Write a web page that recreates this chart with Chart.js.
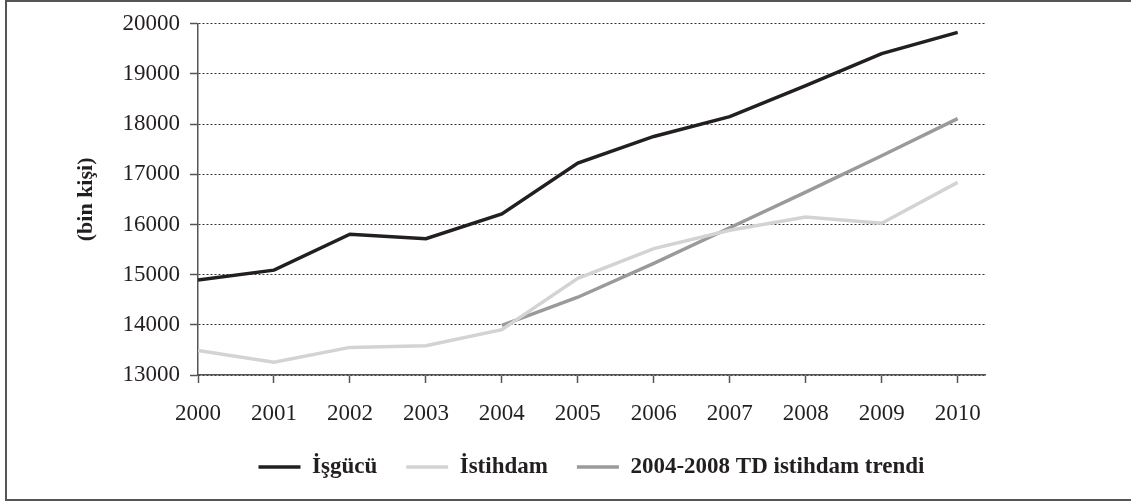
<!DOCTYPE html>
<html>
<head>
<meta charset="utf-8">
<script src="https://cdn.jsdelivr.net/npm/chart.js@4/dist/chart.umd.min.js"></script>
<style>
  html, body { margin: 0; padding: 0; background: #fff; }
  #wrap { width: 1131px; height: 502px; position: relative; }
</style>
</head>
<body>
<div id="wrap"><canvas id="c" width="1131" height="502"></canvas></div>
<script>
const years = [2000, 2001, 2002, 2003, 2004, 2005, 2006, 2007, 2008, 2009, 2010];
const isgucu = [14895, 15090, 15805, 15715, 16210, 17225, 17755, 18150, 18770, 19405, 19830];
const istihdam = [13490, 13255, 13550, 13585, 13905, 14925, 15520, 15885, 16150, 16025, 16840];
const trend = [null, null, null, null, 13990, 14550, 15225, 15935, 16645, 17370, 18110];
const yTicks = [13000, 14000, 15000, 16000, 17000, 18000, 19000, 20000];
const seriesNames = ['İşgücü', 'İstihdam', '2004-2008 TD istihdam trendi'];
const yTitle = '(bin kişi)';

const toPoints = (vals) => years.map((x, i) => ({ x: x, y: vals[i] })).filter(p => p.y !== null);

const FONT = "'Liberation Serif', 'Times New Roman', serif";

const framePlugin = {
  id: 'frame',
  beforeDraw(chart) {
    const ctx = chart.ctx;
    ctx.save();
    ctx.fillStyle = '#fff';
    ctx.fillRect(0, 0, chart.width, chart.height);
    ctx.strokeStyle = '#555';
    ctx.lineWidth = 2;
    ctx.strokeRect(6, 1, 1135, 499);
    ctx.restore();
  }
};

new Chart(document.getElementById('c'), {
  type: 'line',
  data: {
    datasets: [
      { label: seriesNames[0], data: toPoints(isgucu), borderColor: '#231f20', backgroundColor: '#231f20', borderWidth: 3.5, pointRadius: 0, tension: 0 },
      { label: seriesNames[1], data: toPoints(istihdam), borderColor: '#d3d3d3', backgroundColor: '#d3d3d3', borderWidth: 3.5, pointRadius: 0, tension: 0 },
      { label: seriesNames[2], data: toPoints(trend), borderColor: '#9a9a9a', backgroundColor: '#9a9a9a', borderWidth: 3.5, pointRadius: 0, tension: 0 }
    ]
  },
  options: {
    responsive: false,
    animation: false,
    devicePixelRatio: 1,
    layout: { padding: { left: 0, top: 21, right: 146, bottom: 13.5 } },
    plugins: {
      tooltip: { enabled: false },
      legend: {
        position: 'bottom',
        fullSize: false,
        labels: {
          usePointStyle: true,
          pointStyle: 'line',
          pointStyleWidth: 42,
          boxHeight: 3,
          padding: 29,
          color: '#231f20',
          font: { family: FONT, size: 23, weight: 'bold' }
        }
      }
    },
    scales: {
      x: {
        type: 'linear',
        min: 2000,
        max: 2010.36,
        afterBuildTicks: (scale) => { scale.ticks = years.map(v => ({ value: v })); },
        afterFit: (scale) => { scale.height = 51.5; },
        ticks: {
          color: '#231f20',
          padding: 17,
          maxRotation: 0,
          autoSkip: false,
          font: { family: FONT, size: 23 },
          callback: (v) => String(v)
        },
        grid: { drawOnChartArea: false, drawTicks: true, tickLength: 8, tickColor: '#555', tickWidth: 1.5 },
        border: { display: true, color: '#555', width: 1.5 }
      },
      y: {
        min: 13000,
        max: 20000,
        afterBuildTicks: (scale) => { scale.ticks = yTicks.map(v => ({ value: v })); },
        afterFit: (scale) => { scale.width = 198; },
        ticks: {
          color: '#231f20',
          padding: 10,
          font: { family: FONT, size: 23 },
          callback: (v) => String(v)
        },
        grid: { color: '#333', lineWidth: 1, drawTicks: true, tickLength: 8, tickColor: '#555', tickWidth: 1.5 },
        border: { display: true, color: '#555', width: 1.5, dash: [2, 2] },
        title: {
          display: true,
          text: yTitle,
          color: '#231f20',
          font: { family: FONT, size: 22, weight: 'bold' },
          padding: { top: 73, bottom: 0 }
        }
      }
    }
  },
  plugins: [framePlugin]
});
</script>
</body>
</html>
